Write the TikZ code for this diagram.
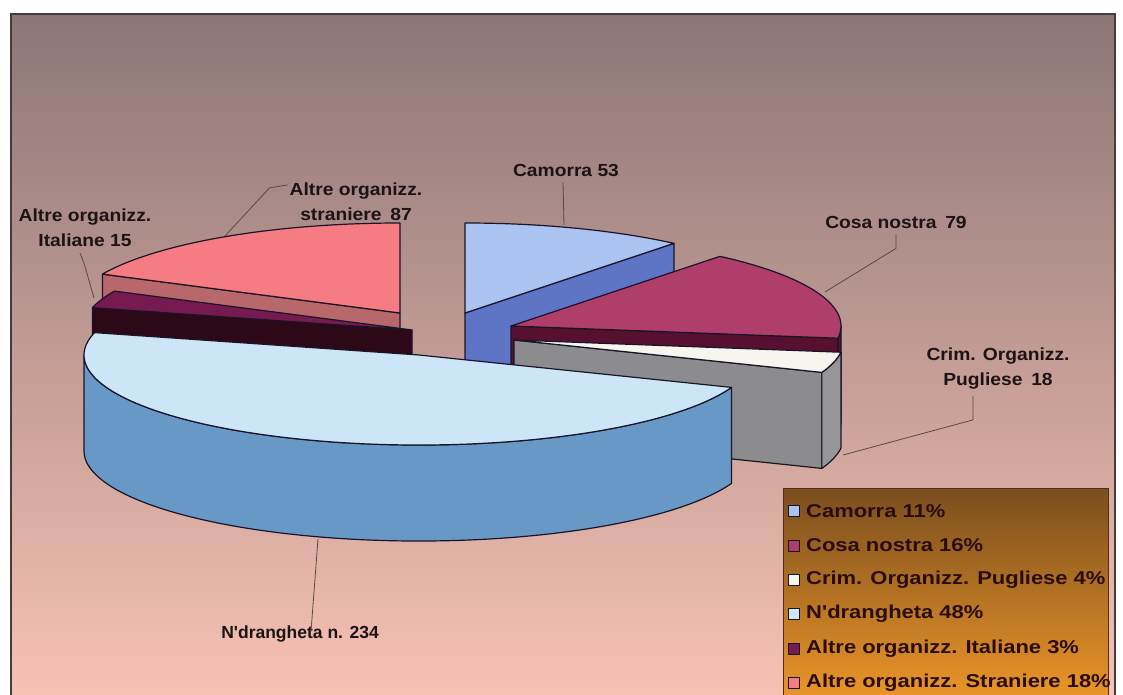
\documentclass[tikz,border=0pt]{standalone}
\usepackage{fontspec}
\setmainfont{Liberation Sans}
\newfontfamily\labfont[FakeStretch=1.1]{Liberation Sans Bold}
\newfontfamily\narfont{Liberation Sans Bold}
\newfontfamily\legfont[FakeStretch=1.18]{Liberation Sans Bold}
\definecolor{bgTop}{RGB}{140,118,118}
\definecolor{bgMid}{RGB}{216,152,142}
\definecolor{bgBot}{RGB}{248,194,180}
\definecolor{framec}{RGB}{70,60,60}
\definecolor{outl}{RGB}{25,20,40}
\definecolor{camTop}{RGB}{170,195,240}
\definecolor{camSide}{RGB}{94,116,196}
\definecolor{cosaTop}{RGB}{176,62,106}
\definecolor{cosaSide}{RGB}{88,16,48}
\definecolor{crimTop}{RGB}{246,246,238}
\definecolor{crimSide}{RGB}{140,140,142}
\definecolor{crimOut}{RGB}{150,150,152}
\definecolor{ndrTop}{RGB}{205,230,247}
\definecolor{ndrSide}{RGB}{104,152,198}
\definecolor{itaTop}{RGB}{120,26,82}
\definecolor{itaSide}{RGB}{45,8,22}
\definecolor{strTop}{RGB}{245,124,130}
\definecolor{strSide}{RGB}{184,104,106}
\definecolor{leadc}{RGB}{90,72,72}
\definecolor{labc}{RGB}{28,20,20}
\definecolor{legTop}{RGB}{122,78,30}
\definecolor{legBot}{RGB}{236,150,40}
\definecolor{legEdge}{RGB}{80,45,20}
\definecolor{legText}{RGB}{42,12,16}
\tikzset{
  edge/.style={draw=outl, line width=1.2pt, line join=round},
  lead/.style={draw=leadc, line width=0.8pt},
  lab/.style={text=labc, align=center, font=\labfont\fontsize{17.5}{25}\selectfont, inner sep=0pt},
  labn/.style={text=labc, align=center, font=\narfont\fontsize{17.5}{25}\selectfont, inner sep=0pt},
  legtext/.style={text=legText, anchor=west, font=\legfont\fontsize{18.6}{20}\selectfont, inner sep=0pt},
  legbox/.style={draw=outl, line width=0.8pt, minimum size=11pt, inner sep=0pt},
  ell/.style={x radius=330pt, y radius=90pt},
  elln/.style={x radius=335pt, y radius=90pt}
}
\begin{document}
\begin{tikzpicture}[x=1pt,y=1pt]
\useasboundingbox (0,0) rectangle (1123,-695);
\fill[white] (0,0) rectangle (1123,-695);
\shade[top color=bgTop, middle color=bgMid, bottom color=bgBot] (11,-14) rectangle (1115,-700);
\draw[framec, line width=1.5pt] (11,-700) -- (11,-14) -- (1115,-14) -- (1115,-700);

% apexes
\coordinate (sA) at (400,-313);
\coordinate (cA) at (465,-313);
\coordinate (iA) at (412,-330);
\coordinate (nA) at (511,-326);
\coordinate (kA) at (514,-340);
\coordinate (dA) at (419,-355);

% Altre organizz. straniere
\draw[edge, fill=strSide] (sA) -- ++(154.4:330pt and 90pt) -- ++(0,-96) -- ([yshift=-96pt]sA) -- cycle;
\draw[edge, fill=strTop] (sA) -- ++(90:330pt and 90pt) arc[start angle=90, end angle=154.4, ell] -- cycle;

% Camorra
\draw[edge, fill=camSide] (cA) -- ++(50.7:330pt and 90pt) -- ++(0,-96) -- ([yshift=-96pt]cA) -- cycle;
\draw[edge, fill=camTop] (cA) -- ++(90:330pt and 90pt) arc[start angle=90, end angle=50.7, ell] -- cycle;

% Altre organizz. Italiane
\draw[edge, fill=itaSide] (iA) -- ++(165.6:330pt and 90pt) -- ++(0,-96) -- ([yshift=-96pt]iA) -- cycle;
\draw[edge, fill=itaTop] (iA) -- ++(154.4:330pt and 90pt) arc[start angle=154.4, end angle=165.6, ell] -- cycle;

% Cosa nostra
\draw[edge, fill=cosaSide] (nA) -- ++(-7.8:330pt and 90pt) -- ++(0,-96) -- ([yshift=-96pt]nA) -- cycle;
\draw[edge, fill=cosaSide] (nA) ++(-7.8:330pt and 90pt) arc[start angle=-7.8, end angle=0, ell] -- ++(0,-96) arc[start angle=0, end angle=-7.8, ell] -- cycle;
\draw[edge, fill=cosaTop] (nA) -- ++(50.7:330pt and 90pt) arc[start angle=50.7, end angle=-7.8, ell] -- cycle;

% Crim. Organizz. Pugliese
\draw[edge, fill=crimSide] (kA) -- ++(-21.1:330pt and 90pt) -- ++(0,-96) -- ([yshift=-96pt]kA) -- cycle;
\draw[edge, fill=crimOut] (kA) ++(-21.1:330pt and 90pt) arc[start angle=-21.1, end angle=-7.8, ell] -- ++(0,-96) arc[start angle=-7.8, end angle=-21.1, ell] -- cycle;
\draw[edge, fill=crimTop] (kA) -- ++(-7.8:330pt and 90pt) arc[start angle=-7.8, end angle=-21.1, ell] -- cycle;

% N'drangheta
\draw[edge, fill=ndrSide] (dA) ++(180:335pt and 90pt) arc[start angle=180, end angle=338.9, elln] -- ++(0,-96) arc[start angle=338.9, end angle=180, elln] -- cycle;
\draw[edge, fill=ndrTop] (dA) -- ++(-21.1:335pt and 90pt) arc[start angle=-21.1, end angle=-194.4, elln] -- cycle;

% labels
\node[lab] (lStr) at (356,-202) {Altre organizz.\\straniere\enspace 87};
\node[lab] (lIta) at (85,-228) {Altre organizz.\\Italiane 15};
\node[lab] (lCam) at (566,-170) {Camorra 53};
\node[lab] (lCosa) at (896,-222) {Cosa nostra\enspace 79};
\node[lab] (lCrim) at (998,-369) {Crim. Organizz.\\Pugliese\enspace 18};
\node[labn] (lNdr) at (300,-634) {N'drangheta n. 234};

% leader lines
\coordinate (eStr) at (225,-236);
\coordinate (eIta) at (94,-298);
\coordinate (eCam) at (564,-225);
\coordinate (eCosa) at (825,-292);
\coordinate (eCrim) at (843,-455);
\coordinate (eNdr) at (318,-539);
\draw[lead] (lStr.north west) ++(-2,-2) -- ++(-18,-3) -- (eStr);
\draw[lead] (lIta.south) ++(-5,-6) -- ++(4,-10) -- (eIta);
\draw[lead] (lCam.south) ++(-3,-6) -- (eCam);
\draw[lead] (lCosa.south) ++(0,-6) -- ++(0,-14) -- (eCosa);
\draw[lead] (lCrim.south) ++(-25,-6) -- ++(0,-24) -- (eCrim);
\draw[lead] (lNdr.north) ++(11,-6) -- (eNdr);

% legend
\shade[top color=legTop, bottom color=legBot] (783,-488) rectangle (1108,-700);
\draw[legEdge, line width=1pt] (783,-700) -- (783,-488) -- (1108,-488) -- (1108,-700);
\foreach \i/\c/\t in {0/camTop/{Camorra 11\%},1/cosaTop/{Cosa nostra 16\%},2/crimTop/{Crim. Organizz. Pugliese 4\%},3/ndrTop/{N'drangheta 48\%},4/itaTop/{Altre organizz. Italiane 3\%},5/strTop/{Altre organizz. Straniere 18\%}}{
  \node[legbox, fill=\c] (k\i) at (794,{-511-34.4*\i}) {};
  \node[legtext] (t\i) at (806,{-511-34.4*\i}) {\t};
}
\end{tikzpicture}
\end{document}
